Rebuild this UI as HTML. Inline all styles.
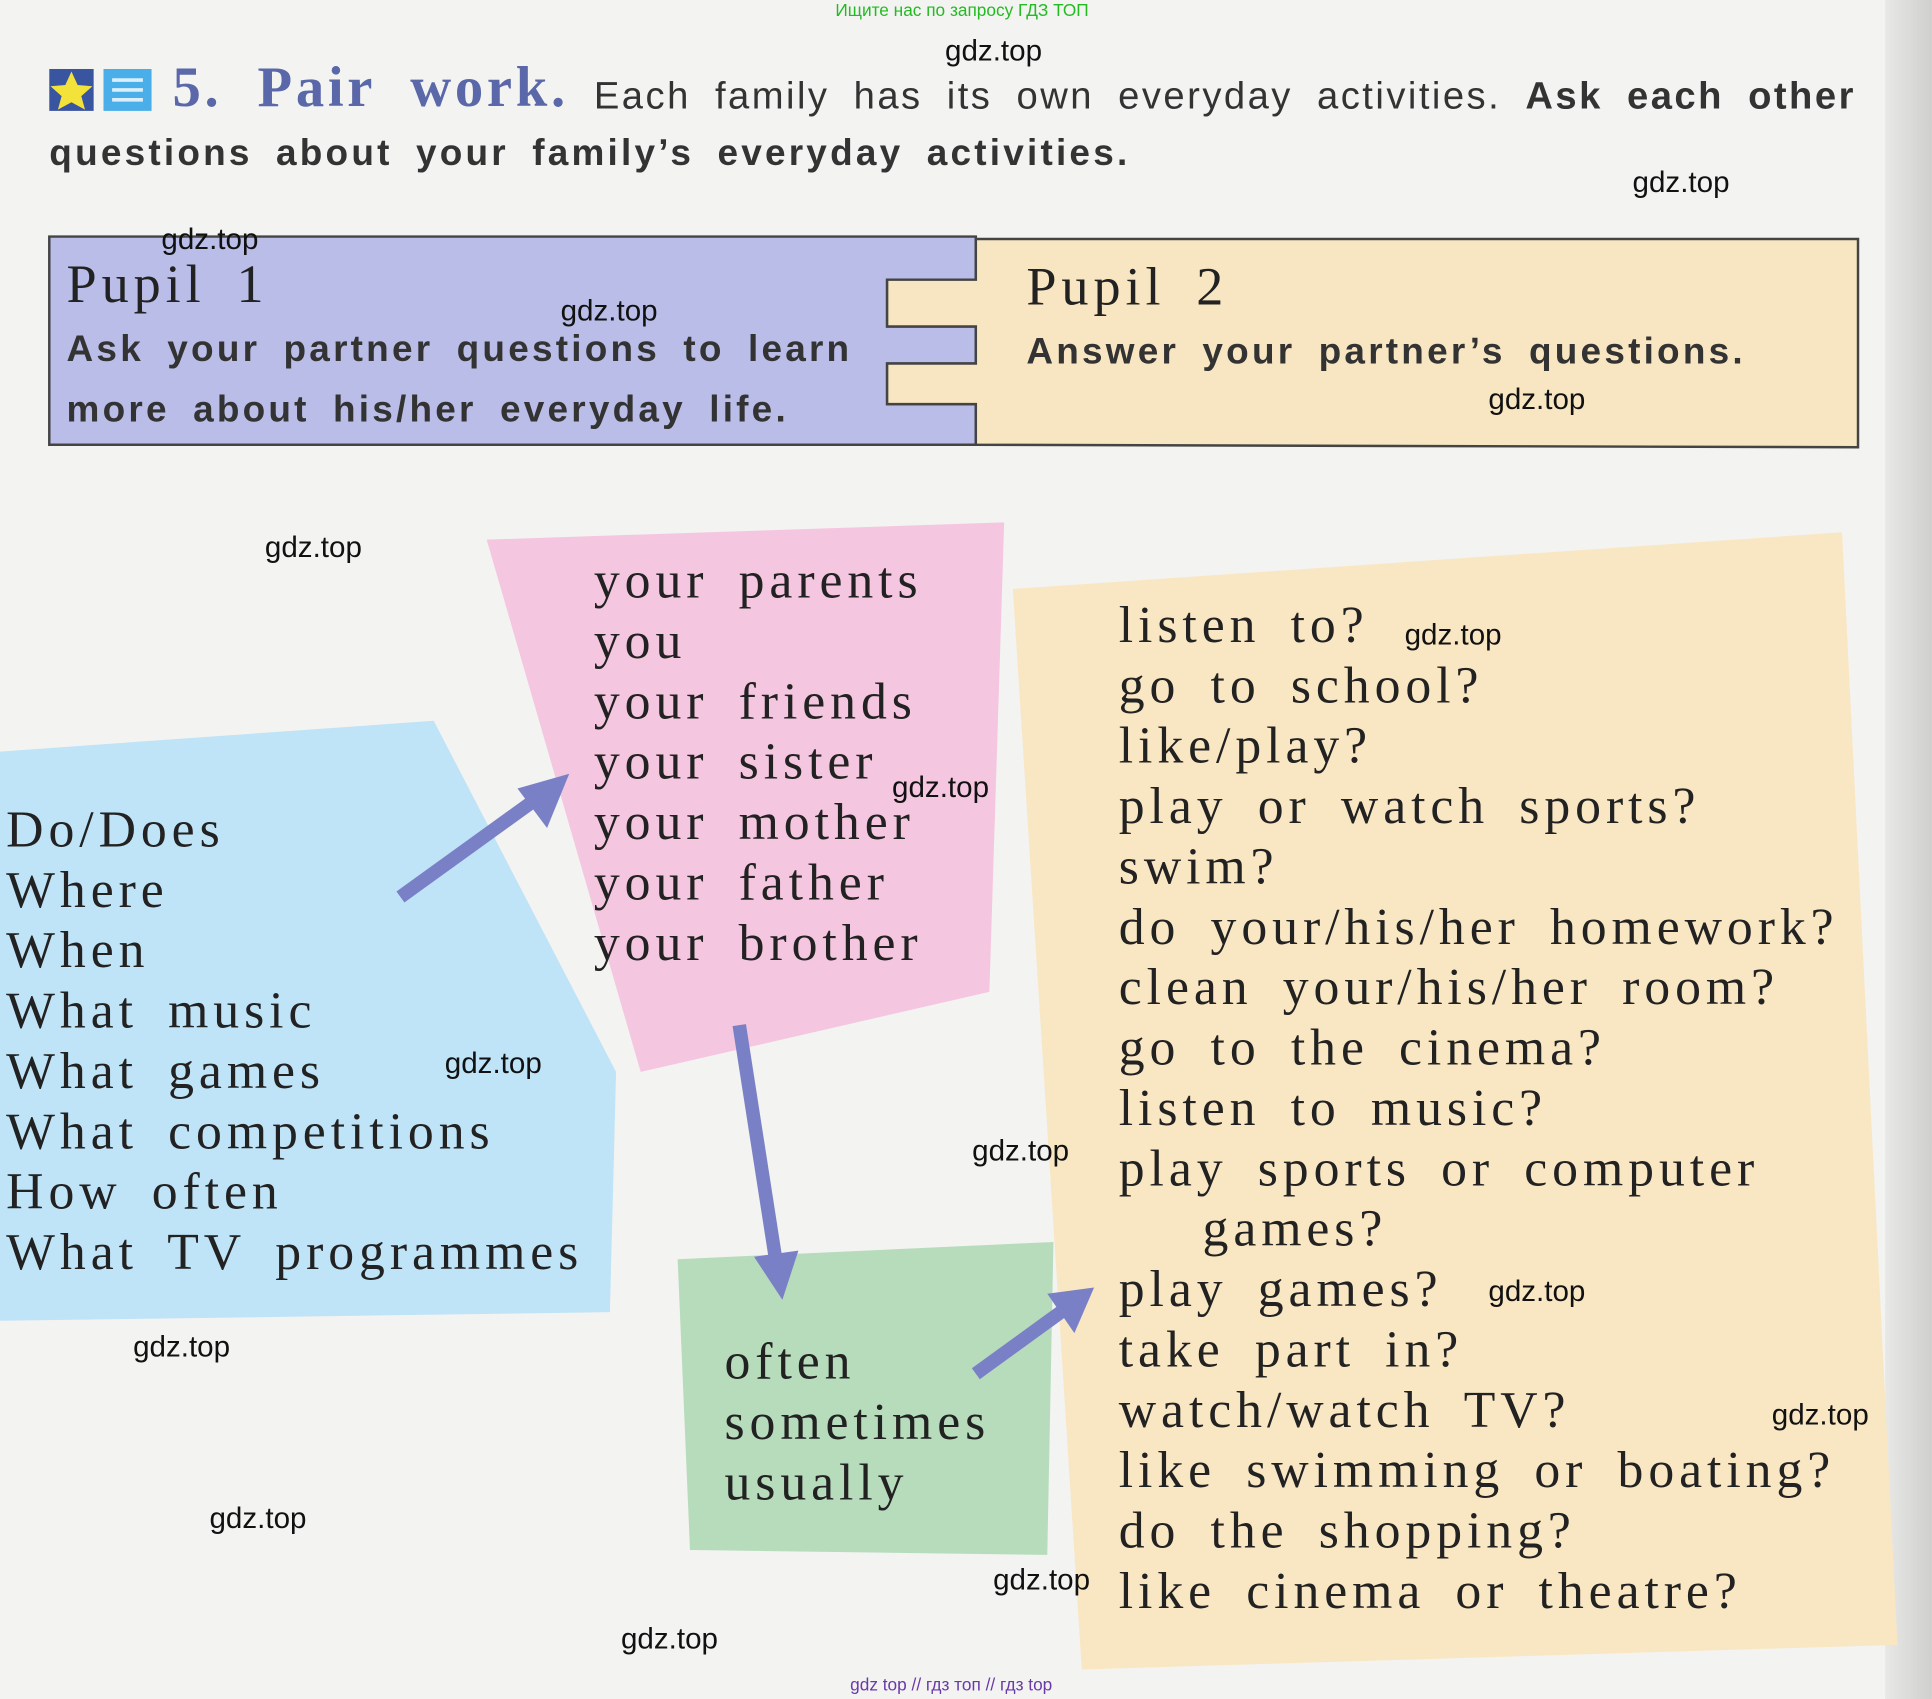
<!DOCTYPE html>
<html><head><meta charset="utf-8"><style>
html,body{margin:0;padding:0;background:#f3f3f1;overflow:hidden}
#w{position:absolute;left:0;top:0;width:1568px;height:1379px;transform:scale(1.2321);transform-origin:0 0;background:#f3f3f1}
.a{position:absolute;white-space:nowrap}
.s{font-family:"Liberation Serif",serif;color:#222;font-size:42px;line-height:49px;word-spacing:10px;letter-spacing:4px}
.b{font-family:"Liberation Sans",sans-serif;font-weight:bold;color:#333;font-size:30px;word-spacing:8px;letter-spacing:2.6px}
.g{font-family:"Liberation Sans",sans-serif;color:#111;font-size:24px}
</style></head><body><div id="w">
<div style="position:absolute;left:1530px;top:0;width:38px;height:1379px;background:linear-gradient(90deg,#e8e8e6,#cfcfcd)"></div>
<svg class="a" style="left:0;top:0" width="1568" height="1379">
<polygon points="0,610 352,585 500,870 495,1065 0,1072" fill="#bfe3f7"/>
<polygon points="395,438 815,424 803,805 520,870" fill="#f4c6df"/>
<polygon points="822,478 1495,432 1540,1335 878,1355" fill="#f9e7c4"/>
<polygon points="550,1022 855,1008 850,1262 560,1258" fill="#b7dcbc"/>
<polygon points="40,192 792,192 792,227 720,227 720,265 792,265 792,295 720,295 720,328 792,328 792,361 40,361" fill="#b9bde8" stroke="#444" stroke-width="2"/>
<polygon points="792,194 1508,194 1508,363 792,361 792,328 720,328 720,295 792,295 792,265 720,265 720,227 792,227" fill="#f8e6c2" stroke="#444" stroke-width="2"/>
<g stroke="#7a80c6" stroke-width="11" fill="#7a80c6">
<line x1="325" y1="728" x2="440" y2="645"/><polygon points="462,628 420,640 444,672" stroke="none"/>
<line x1="600" y1="832" x2="630" y2="1025"/><polygon points="635,1055 612,1020 648,1015" stroke="none"/>
<line x1="792" y1="1115" x2="865" y2="1062"/><polygon points="888,1045 850,1050 872,1082" stroke="none"/>
</g>
<rect x="40" y="56" width="36" height="34" fill="#3a55a0"/>
<polygon points="58,58 63,69 75,70 66,78 69,89 58,83 47,89 50,78 41,70 53,69" fill="#f2e23a"/>
<rect x="84" y="56" width="39" height="34" fill="#4aaee8"/>
<g stroke="#d9effb" stroke-width="3"><line x1="91" y1="65" x2="116" y2="65"/><line x1="91" y1="73" x2="116" y2="73"/><line x1="91" y1="81" x2="116" y2="81"/></g>
</svg>
<div class="a" style="left:678px;top:0px;font:14px 'Liberation Sans',sans-serif;color:#22bb22">Ищите нас по запросу ГДЗ ТОП</div>
<div class="a" style="left:140px;top:44px;font-family:'Liberation Serif',serif;font-weight:bold;font-size:46px;color:#5a67a8;word-spacing:14px;letter-spacing:3px">5. Pair work.</div>
<div class="a" style="left:482px;top:60px;font-family:'Liberation Sans',sans-serif;font-size:31px;color:#333;word-spacing:9px;letter-spacing:2px">Each family has its own everyday activities. <b>Ask each other</b></div>
<div class="a b" style="left:40px;top:108px">questions about your family’s everyday activities.</div>
<div class="a s" style="left:54px;top:206px;font-size:44px">Pupil 1</div>
<div class="a b" style="left:54px;top:267px">Ask your partner questions to learn</div>
<div class="a b" style="left:54px;top:316px">more about his/her everyday life.</div>
<div class="a s" style="left:833px;top:208px;font-size:44px">Pupil 2</div>
<div class="a b" style="left:833px;top:269px">Answer your partner’s questions.</div>
<div class="a s" style="left:482px;top:448px">your parents<br>you<br>your friends<br>your sister<br>your mother<br>your father<br>your brother</div>
<div class="a s" style="left:5px;top:650px">Do/Does<br>Where<br>When<br>What music<br>What games<br>What competitions<br>How often<br>What TV programmes</div>
<div class="a s" style="left:588px;top:1082px">often<br>sometimes<br>usually</div>
<div class="a s" style="left:908px;top:484px">listen to?<br>go to school?<br>like/play?<br>play or watch sports?<br>swim?<br>do your/his/her homework?<br>clean your/his/her room?<br>go to the cinema?<br>listen to music?<br>play sports or computer<br><span style="padding-left:68px">games?</span><br>play games?<br>take part in?<br>watch/watch TV?<br>like swimming or boating?<br>do the shopping?<br>like cinema or theatre?</div>
<div class="a g" style="left:767px;top:28px">gdz.top</div>
<div class="a g" style="left:1325px;top:135px">gdz.top</div>
<div class="a g" style="left:131px;top:181px">gdz.top</div>
<div class="a g" style="left:455px;top:239px">gdz.top</div>
<div class="a g" style="left:1208px;top:311px">gdz.top</div>
<div class="a g" style="left:215px;top:431px">gdz.top</div>
<div class="a g" style="left:1140px;top:502px">gdz.top</div>
<div class="a g" style="left:724px;top:626px">gdz.top</div>
<div class="a g" style="left:361px;top:850px">gdz.top</div>
<div class="a g" style="left:789px;top:921px">gdz.top</div>
<div class="a g" style="left:1208px;top:1035px">gdz.top</div>
<div class="a g" style="left:108px;top:1080px">gdz.top</div>
<div class="a g" style="left:1438px;top:1135px">gdz.top</div>
<div class="a g" style="left:170px;top:1219px">gdz.top</div>
<div class="a g" style="left:806px;top:1269px">gdz.top</div>
<div class="a g" style="left:504px;top:1317px">gdz.top</div>
<div class="a" style="left:690px;top:1359px;font:14px 'Liberation Sans',sans-serif;color:#6a3aa8">gdz top // гдз топ // гдз top</div>
</div></body></html>
